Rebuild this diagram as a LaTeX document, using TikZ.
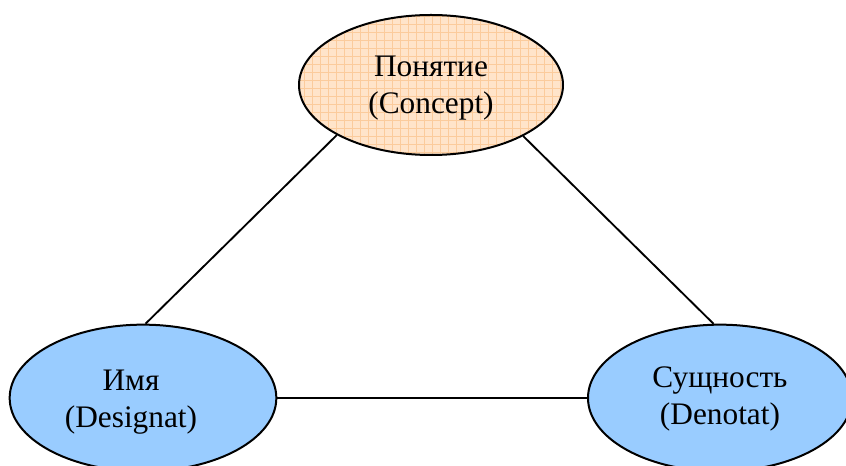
\documentclass[tikz,border=0pt]{standalone}
\usepackage{fontspec}
\setmainfont{Liberation Serif}
\usetikzlibrary{shapes.geometric}
\definecolor{bluefill}{HTML}{99CCFF}
\definecolor{orfill}{HTML}{FFE4CA}
\definecolor{orgrid}{HTML}{FBCB9C}
\tikzset{
  ell/.style={ellipse, draw=black, line width=1.5pt, inner sep=0pt},
  lbl/.style={align=center, font=\fontsize{23.5}{28}\selectfont, inner sep=0pt},
  conn/.style={line width=1.4pt, draw=black}
}
\begin{document}
\begin{tikzpicture}[x=0.75pt, y=-0.75pt]
\useasboundingbox (0,0) rectangle (846,466);
% top ellipse fill with grid
\begin{scope}
  \clip (431,85) ellipse [x radius=99pt, y radius=52.5pt];
  \fill[orfill] (290,5) rectangle (575,165);
  \draw[orgrid, line width=0.5pt, step=6pt] (290,5) grid (575,165);
\end{scope}
\node[ell, minimum width=198pt, minimum height=105pt] (top) at (431,85) {};
\node[ell, fill=bluefill, minimum width=200pt, minimum height=110pt] (left) at (143,398) {};
\node[ell, fill=bluefill, minimum width=198pt, minimum height=110pt] (right) at (720,398) {};
\node[lbl] (toptxt) at (431,88) {Понятие\\(Concept)};
\node[lbl] (lefttxt) at (131,402) {Имя\\(Designat)};
\node[lbl] (righttxt) at (720,399) {Сущность\\(Denotat)};
\draw[conn] (top.208) -- (left.88);
\draw[conn] (top.331) -- (right.95);
\draw[conn] (left.0) -- (right.180);
\end{tikzpicture}
\end{document}
